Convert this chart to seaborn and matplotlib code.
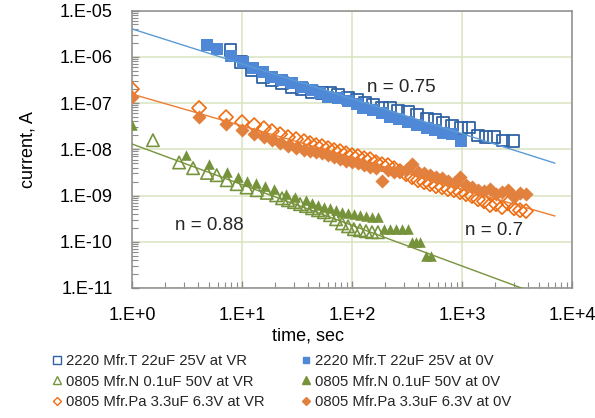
import matplotlib
matplotlib.use("Agg")
import matplotlib.pyplot as plt
import seaborn as sns
import numpy as np
import pandas as pd
from matplotlib.lines import Line2D
from matplotlib.ticker import LogLocator, FuncFormatter, NullFormatter

# ---------------- data ----------------
# 2220 Mfr.T 22uF 25V at VR (open squares)
t_T_VR = [7.9, 9.8, 12.3, 15.5, 18.7, 23.1, 28.5, 35.1, 43.3, 53.3, 63.1, 74.6, 92.0, 111, 131,
          155, 187, 221, 262, 323, 390, 481, 569, 671, 811, 979, 1159, 1396, 1652, 1954, 2360, 2911]
i_T_VR = [1.40e-6, 7.7e-7, 5.2e-7, 3.6e-7, 3.1e-7, 2.7e-7, 2.2e-7, 2.0e-7, 1.72e-7, 1.64e-7,
          1.64e-7, 1.48e-7, 1.28e-7, 1.16e-7, 1.0e-7, 9.0e-8, 8.1e-8, 7.8e-8, 7.0e-8, 6.4e-8,
          5.5e-8, 4.7e-8, 4.3e-8, 3.7e-8, 3.3e-8, 2.9e-8, 3.0e-8, 2.0e-8, 1.83e-8, 1.83e-8,
          1.57e-8, 1.50e-8]
# 2220 Mfr.T 22uF 25V at 0V (filled squares)
t_T_0V = [4.8, 5.9, 7.9, 10.2, 12.6, 15.5, 18.7, 23.1, 28.5, 35.1, 43.3, 51.2, 60.5, 74.6, 92,
          111, 126, 155, 187, 221, 267, 323, 390, 481, 569, 671, 811, 979]
i_T_0V = [1.79e-6, 1.47e-6, 1.04e-6, 7.7e-7, 5.7e-7, 4.7e-7, 3.6e-7, 3.1e-7, 2.7e-7, 2.2e-7,
          1.9e-7, 1.64e-7, 1.34e-7, 1.28e-7, 1.10e-7, 9.5e-8, 7.8e-8, 7.0e-8, 6.0e-8, 5.0e-8,
          4.5e-8, 3.9e-8, 3.3e-8, 2.9e-8, 2.6e-8, 2.2e-8, 2.1e-8, 1.5e-8]

# 0805 Mfr.Pa 3.3uF 6.3V (both series share the time grid)
t_Pa = [1.0, 4.07, 7.16, 10.0, 12.9, 15.8, 18.7, 22.2, 26.2, 31.0, 36.6, 41.5, 47.1, 53.3, 60.5,
        68.6, 77.8, 88.2, 100, 113, 129, 146, 165, 187, 212, 241, 273, 310, 351, 398, 452, 512,
        580, 658, 746, 846, 959, 1087, 1233, 1398, 1585, 1797, 2037, 2310, 2619, 2970, 3367, 3817]
i_Pa_VR = [2.0e-7, 7.8e-8, 4.95e-8, 3.86e-8, 3.33e-8, 2.86e-8, 2.47e-8, 2.12e-8, 1.83e-8, 1.66e-8,
           1.50e-8, 1.36e-8, 1.23e-8, 1.17e-8, 1.06e-8, 9.6e-9, 9.1e-9, 8.2e-9, 7.45e-9, 7.1e-9,
           6.4e-9, 6.1e-9, 5.26e-9, 4.75e-9, 4.53e-9, 3.9e-9, 3.36e-9, 2.89e-9, 2.49e-9, 2.14e-9,
           1.94e-9, 1.76e-9, 1.59e-9, 1.51e-9, 1.37e-9, 1.30e-9, 1.18e-9, 1.07e-9, 9.7e-10, 8.3e-10,
           7.5e-10, 6.2e-10, 6.5e-10, 5.6e-10, 6.8e-10, 5.3e-10, 4.8e-10, 4.6e-10]
i_Pa_0V = [1.32e-7, 4.95e-8, 3.49e-8, 2.59e-8, 2.12e-8, 1.83e-8, 1.57e-8, 1.36e-8, 1.17e-8, 1.06e-8,
           9.6e-9, 9.1e-9, 8.65e-9, 8.2e-9, 7.45e-9, 6.75e-9, 6.1e-9, 5.52e-9, 5.26e-9, 5.0e-9,
           4.53e-9, 4.1e-9, 3.9e-9, 2.04e-9, 3.53e-9, 3.19e-9, 3.36e-9, 3.53e-9, 4.75e-9, 3.19e-9,
           3.04e-9, 2.75e-9, 2.49e-9, 2.37e-9, 2.04e-9, 1.85e-9, 2.49e-9, 1.67e-9, 1.51e-9, 1.30e-9,
           1.24e-9, 1.37e-9, 1.07e-9, 1.18e-9, 1.30e-9, 9.2e-10, 1.12e-9, 1.07e-9]

# 0805 Mfr.N 0.1uF 50V at VR (open triangles)
t_N_VR = [1.55, 2.68, 3.59, 4.81, 5.89, 7.26, 8.95, 11.0, 13.6, 16.8, 20.4, 23.1, 26.2, 29.7, 33.7,
          38.2, 43.3, 49.1, 55.6, 63.1, 71.6, 81.1, 92.0, 104, 118, 134, 152, 172]
i_N_VR = [1.57e-8, 5.18e-9, 3.9e-9, 3.08e-9, 2.75e-9, 2.14e-9, 1.76e-9, 1.49e-9, 1.30e-9, 1.14e-9,
          1.01e-9, 8.7e-10, 7.9e-10, 7.2e-10, 6.5e-10, 5.9e-10, 5.3e-10, 4.8e-10, 4.35e-10, 3.75e-10,
          3.07e-10, 2.5e-10, 2.16e-10, 1.87e-10, 1.77e-10, 1.69e-10, 1.61e-10, 1.61e-10]
# 0805 Mfr.N 0.1uF 50V at 0V (filled triangles)
t_N_0V = [1.0, 3.08, 5.04, 7.26, 9.14, 11.0, 13.4, 16.2, 19.5, 25.1, 30.3, 38.2, 43.3, 49.1, 55.6,
          63.1, 71.6, 81.1, 92.0, 104, 118, 134, 152, 172, 195, 221, 251, 285, 323, 351, 382, 415,
          471, 523]
i_N_0V = [3.33e-8, 7.45e-9, 4.75e-9, 3.25e-9, 2.53e-9, 2.04e-9, 1.82e-9, 1.59e-9, 1.35e-9, 1.10e-9,
          9.3e-10, 7.9e-10, 6.8e-10, 6.2e-10, 5.6e-10, 5.3e-10, 4.8e-10, 4.35e-10, 4.14e-10, 3.94e-10,
          3.75e-10, 3.56e-10, 3.39e-10, 3.39e-10, 1.87e-10, 1.87e-10, 1.87e-10, 1.87e-10, 1.87e-10,
          9.8e-11, 9.8e-11, 9.8e-11, 4.85e-11, 4.85e-11]

# power-law trend lines (end points)
trend_t = [1.0, 7000.0]
trend_T = [4.0e-6, 5.0e-9]
trend_Pa = [1.56e-7, 3.6e-10]
trend_N = [1.3e-8, 5.4e-12]

labels = ["2220 Mfr.T 22uF 25V at VR", "0805 Mfr.N 0.1uF 50V at VR", "0805 Mfr.Pa 3.3uF 6.3V at VR",
          "2220 Mfr.T 22uF 25V at 0V", "0805 Mfr.N 0.1uF 50V at 0V", "0805 Mfr.Pa 3.3uF 6.3V at 0V"]
annotations = ["n = 0.75", "n = 0.88", "n = 0.7"]

# ---------------- style ----------------
sns.set_theme(style="white")
plt.rcParams['font.family'] = ['Liberation Sans', 'DejaVu Sans']

BLUE_FILL, BLUE_EDGE, BLUE_LINE = '#4f88d6', '#2f62a5', '#5b9bd5'
OR_FILL, OR_EDGE, OR_LINE = '#e2813e', '#f06c10', '#ed7d31'
GR_FILL, GR_EDGE, GR_LINE = '#76933c', '#77943d', '#77933c'

fig = plt.figure(figsize=(5.95, 4.18), dpi=100)
ax = fig.add_axes([132 / 595, 1 - 288 / 418, 440 / 595, 277.5 / 418])


def scatter(t, i, marker, s, color, open_marker, z, lw=1.3):
    sns.scatterplot(x=t, y=i, marker=marker, s=s, color=color, edgecolor=color,
                    linewidth=lw if open_marker else 0, ax=ax, zorder=z, legend=False)
    coll = ax.collections[-1]
    if open_marker:
        coll.set_facecolor('none')
        coll.set_edgecolor(color)


scatter(t_T_VR, i_T_VR, 's', 66, BLUE_EDGE, True, 3)
scatter(t_T_0V, i_T_0V, 's', 64, BLUE_FILL, False, 4)
scatter(t_N_VR, i_N_VR, '^', 80, GR_EDGE, True, 3, lw=1.2)
scatter(t_N_0V, i_N_0V, '^', 58, GR_FILL, False, 4)
scatter(t_Pa, i_Pa_VR, 'D', 52, OR_EDGE, True, 5, lw=1.2)
scatter(t_Pa, i_Pa_0V, 'D', 52, OR_FILL, False, 6)

for tr, col in [(trend_T, BLUE_LINE), (trend_Pa, OR_LINE), (trend_N, GR_LINE)]:
    sns.lineplot(x=trend_t, y=tr, color=col, lw=1.0, ax=ax, zorder=7)

ax.set_xscale('log')
ax.set_yscale('log')
ax.set_xlim(1, 1e4)
ax.set_ylim(1e-11, 1e-5)

for axis in (ax.xaxis, ax.yaxis):
    axis.set_major_locator(LogLocator(base=10, numticks=20))
    axis.set_minor_locator(LogLocator(base=10, subs=np.arange(2, 10), numticks=200))
    axis.set_minor_formatter(NullFormatter())
ax.xaxis.set_major_formatter(FuncFormatter(lambda v, p: "1.E%+d" % int(round(np.log10(v)))))
ax.yaxis.set_major_formatter(FuncFormatter(lambda v, p: "1.E%+03d" % int(round(np.log10(v)))))

ax.tick_params(which='both', direction='in', colors='#8c8c8c', labelcolor='black',
               labelsize=13, pad=14, bottom=True, left=True, top=False, right=False)
ax.tick_params(which='major', length=5, width=1)
ax.tick_params(which='minor', length=4, width=0.8)

ax.grid(True, which='major', color='#d9e4c1', lw=1.1)
ax.set_axisbelow(True)
for sp in ax.spines.values():
    sp.set_color('#8c8c8c')
    sp.set_linewidth(1.1)
    sp.set_visible(True)

ax.set_xlabel('time, sec', fontsize=13, color='black')
ax.set_ylabel('current, A', fontsize=13, color='black')
ax.xaxis.set_label_coords(0.401, -0.142)
ax.yaxis.set_label_coords(-0.216, 0.5)

ax.text(0.611, 0.724, annotations[0], transform=ax.transAxes, fontsize=13.5, ha='center', va='center')
ax.text(0.175, 0.227, annotations[1], transform=ax.transAxes, fontsize=13.5, ha='center', va='center')
ax.text(0.823, 0.209, annotations[2], transform=ax.transAxes, fontsize=13.5, ha='center', va='center')

handles = [
    Line2D([], [], ls='', marker='s', ms=5.5, mfc='none', mec=BLUE_EDGE, mew=1.0),
    Line2D([], [], ls='', marker='^', ms=5.5, mfc='none', mec=GR_EDGE, mew=1.0),
    Line2D([], [], ls='', marker='D', ms=4.5, mfc='none', mec=OR_EDGE, mew=1.0),
    Line2D([], [], ls='', marker='s', ms=5.0, mfc=BLUE_FILL, mec=BLUE_FILL),
    Line2D([], [], ls='', marker='^', ms=5.5, mfc=GR_FILL, mec=GR_FILL),
    Line2D([], [], ls='', marker='D', ms=4.5, mfc=OR_FILL, mec=OR_FILL),
]
fig.legend(handles, labels, ncol=2, loc='upper left', bbox_to_anchor=(52.5 / 595, 1 - 354 / 418),
           frameon=False, fontsize=10.7, handlelength=0.6, handletextpad=0.3, columnspacing=2.5,
           labelspacing=0.44, borderpad=0, borderaxespad=0)

fig.savefig('out.png', dpi=100)
